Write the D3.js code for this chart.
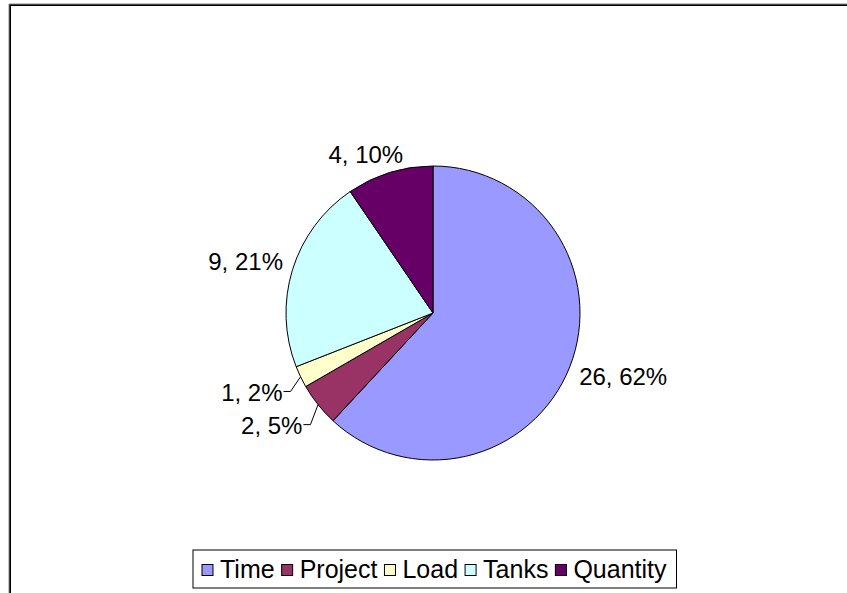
<!DOCTYPE html>
<html>
<head>
<meta charset="utf-8">
<script src="https://cdn.jsdelivr.net/npm/d3@7"></script>
<style>
  html, body { margin: 0; padding: 0; background: #fff; }
  text { font-family: "Liberation Sans", Arial, sans-serif; }
</style>
</head>
<body>
<svg id="chart" width="847" height="593"></svg>
<script>
const categories = ["Time", "Project", "Load", "Tanks", "Quantity"];
const values = [26, 2, 1, 9, 4];
const colors = ["#9999FF", "#993366", "#FFFFCC", "#CCFFFF", "#660066"];

const W = 847, H = 593;
const svg = d3.select("#chart");

// chart frame (top and left edges visible)
svg.append("path")
  .attr("d", `M10,${H} L10,5 L${W},5`)
  .attr("fill", "none").attr("stroke", "#000").attr("stroke-width", 2);
svg.append("path")
  .attr("d", `M9,${H} L9,4 L${W},4`)
  .attr("fill", "none").attr("stroke", "#888").attr("stroke-width", 1);

const cx = 433, cy = 313, r = 147;
const total = d3.sum(values);
const data = categories.map((c, i) => ({ name: c, value: values[i], color: colors[i] }));

const pie = d3.pie().sort(null).value(d => d.value).startAngle(0).endAngle(2 * Math.PI);
const arc = d3.arc().innerRadius(0).outerRadius(r);
const arcs = pie(data);

const g = svg.append("g").attr("transform", `translate(${cx},${cy})`);
g.selectAll("path.slice").data(arcs).enter().append("path")
  .attr("class", "slice")
  .attr("d", arc)
  .attr("fill", d => d.data.color)
  .attr("stroke", "#000").attr("stroke-width", 1)
  .attr("stroke-linejoin", "round");

// labels
const fontSize = 24, capH = 17;
const lg = g.append("g");
arcs.forEach(d => {
  const share = d.data.value / total;
  const txt = `${d.data.value}, ${Math.round(share * 100)}%`;
  const a = (d.startAngle + d.endAngle) / 2;
  const sx = Math.sin(a), sy = -Math.cos(a);
  const small = share < 0.05;
  const gap = small ? 20 : 10;
  const t = lg.append("text").attr("font-size", fontSize).attr("fill", "#000").text(txt);
  const len = t.node().getComputedTextLength();
  const w = len / 2, h = capH / 2;
  const ox = Math.sign(sx) * w * Math.min(1, Math.abs(sx) * 1.9);
  const oy = Math.sign(sy) * h * Math.min(1, Math.abs(sy) * 1.9);
  const mx = sx * (r + gap) + ox;
  const my = sy * (r + gap) + oy;
  t.attr("x", mx - w).attr("y", my + h);
  if (small) {
    const ex = sx * r, ey = sy * r;
    const side = sx < 0 ? 1 : -1;
    const tx = mx + side * (w + 1);
    const ty = my - 1;
    lg.append("path")
      .attr("d", `M${ex},${ey} L${tx + side * 7},${ty} L${tx},${ty}`)
      .attr("fill", "none").attr("stroke", "#000").attr("stroke-width", 1);
  }
});

// legend
const legX = 193, legY = 550, legH = 38;
const leg = svg.append("g");
const box = leg.append("rect")
  .attr("x", legX).attr("y", legY).attr("height", legH)
  .attr("fill", "#fff").attr("stroke", "#000").attr("stroke-width", 1);
let x = legX + 9;
const sw = 11, legFont = 25;
data.forEach(d => {
  leg.append("rect")
    .attr("x", x).attr("y", legY + legH / 2 - sw / 2 + 1)
    .attr("width", sw).attr("height", sw)
    .attr("fill", d.color).attr("stroke", "#000").attr("stroke-width", 1);
  const t = leg.append("text").attr("x", x + sw + 7).attr("y", legY + 28)
    .attr("font-size", legFont).attr("fill", "#000").text(d.name);
  x = x + sw + 7 + t.node().getComputedTextLength() + 7;
});
box.attr("width", x - legX + 3);
</script>
</body>
</html>
